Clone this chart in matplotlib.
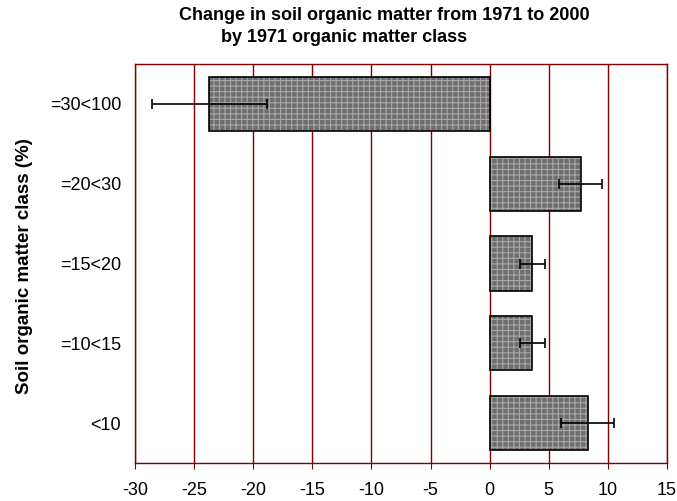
import matplotlib
matplotlib.use("Agg")
import matplotlib.pyplot as plt

categories = ["<10", "=10<15", "=15<20", "=20<30", "=30<100"]
values = [8.3, 3.6, 3.6, 7.7, -23.7]
errors = [2.25, 1.05, 1.05, 1.8, 4.85]
xticks = [-30, -25, -20, -15, -10, -5, 0, 5, 10, 15]

plt.rcParams['font.family'] = ['Liberation Sans', 'DejaVu Sans']
plt.rcParams['hatch.linewidth'] = 0.8

fig = plt.figure(figsize=(6.77, 5.01), dpi=100)
ax = fig.add_axes([135/677, 38/501, 532/677, 399/501])

grid_c = '#800000'
pos = list(range(len(categories)))
for t in xticks:
    ax.axvline(t, color=grid_c, lw=1.0, zorder=0)

ax.barh(pos, values, height=0.68, color='#6e6e6e', edgecolor='#a8a8a8',
        hatch='+++', linewidth=0, zorder=2)
ax.barh(pos, values, height=0.68, fill=False, edgecolor='black',
        linewidth=1.2, zorder=3)
ax.errorbar(values, pos, xerr=errors, fmt='none', ecolor='black',
            elinewidth=1.2, capsize=3.5, capthick=1.2, zorder=4)

ax.set_xlim(-30, 15)
ax.set_ylim(-0.5, len(categories) - 0.5)
ax.set_xticks(xticks)
ax.set_xticklabels([str(t) for t in xticks], fontsize=13)
ax.set_yticks(pos)
ax.set_yticklabels(categories, fontsize=13)
ax.tick_params(axis='y', length=0, pad=10)
ax.tick_params(axis='x', length=4, color=grid_c, direction='out', pad=10)
for s in ax.spines.values():
    s.set_color(grid_c)
    s.set_linewidth(1.0)

fig.text(25/677, 1 - 266/501, "Soil organic matter class (%)", rotation=90,
         ha='center', va='center', fontsize=13.5, fontweight='bold')

fig.text(384/677, 1 - 15/501, "Change in soil organic matter from 1971 to 2000",
         ha='center', va='center', fontsize=13, fontweight='bold')
fig.text(344/677, 1 - 37/501, "by 1971 organic matter class",
         ha='center', va='center', fontsize=13, fontweight='bold')

fig.savefig("out.png", dpi=100)
